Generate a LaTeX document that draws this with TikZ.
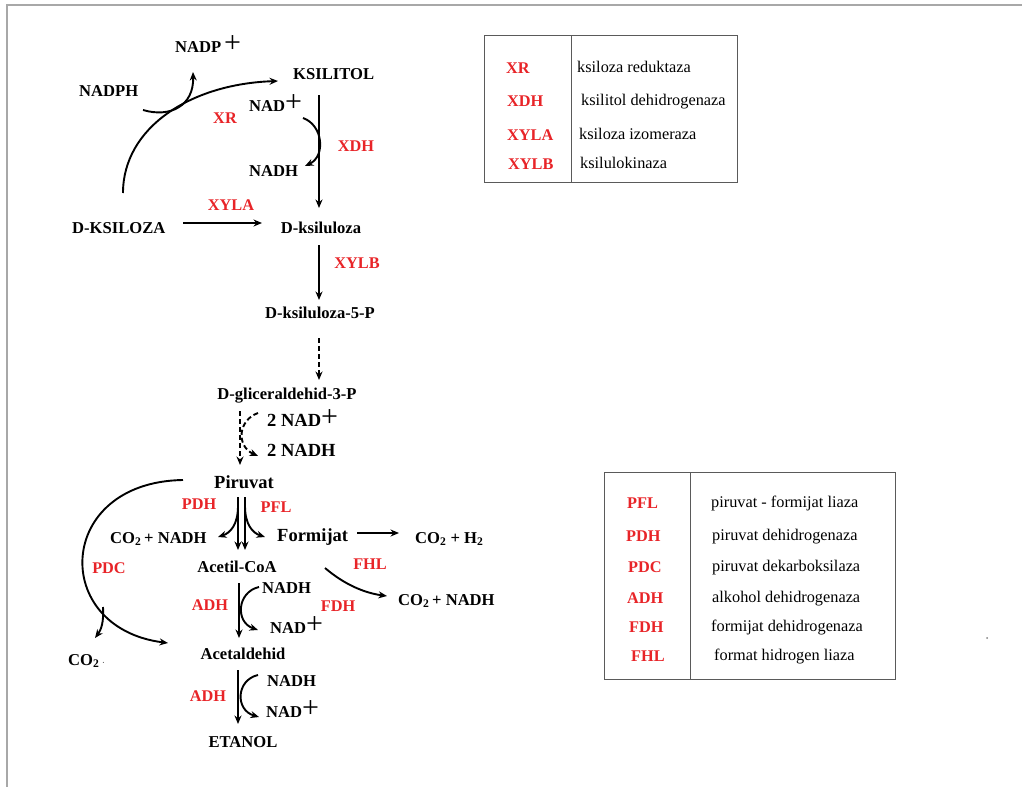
\documentclass[tikz,border=0pt]{standalone}
\usepackage{fontspec}
\setmainfont{Liberation Serif}
\usetikzlibrary{arrows.meta}
\definecolor{enzred}{RGB}{232,36,40}
\definecolor{framegray}{RGB}{168,168,168}
\definecolor{tabline}{RGB}{90,90,90}
\newcommand{\bigplus}{\raisebox{-0.5pt}{\mdseries\fontsize{30}{30}\selectfont +}}
\tikzset{
  lbl/.style={font=\fontsize{16.6}{18}\selectfont\bfseries, inner sep=0pt, anchor=base},
  lblw/.style={lbl, anchor=base west},
  big/.style={font=\fontsize{18.5}{20}\selectfont\bfseries},
  enz/.style={font=\fontsize{16.3}{18}\selectfont\bfseries, text=enzred, inner sep=0pt, anchor=base},
  enzw/.style={enz, anchor=base west},
  tx/.style={font=\fontsize{16.3}{18}\selectfont, inner sep=0pt, anchor=base west},
  arr/.style={line width=1.9pt, -{Stealth[length=8.5pt,width=7pt]}},
  darr/.style={arr, dash pattern=on 5pt off 3pt},
  tab/.style={draw=tabline, line width=0.9pt},
}
\begin{document}
\begin{tikzpicture}[x=1pt,y=-1pt]
\useasboundingbox (0,0) rectangle (1022,787);
% frame
\draw[framegray, line width=2pt] (6.5,5) -- (1022,5);
\draw[framegray, line width=2pt] (7,4) -- (7,787);

% metabolites
\node[lblw] (nadp) at (175,52) {NADP\,\bigplus};
\node[lblw] (nadph) at (79,96) {NADPH};
\node[lblw] (ksilitol) at (293,79) {KSILITOL};
\node[lblw] (nad1) at (249,111) {NAD\bigplus};
\node[lblw] (nadh1) at (249,176) {NADH};
\node[lblw] (dksiloza) at (72,233) {D-KSILOZA};
\node[lbl] (dksiluloza) at (321,233) {D-ksiluloza};
\node[lbl] (dk5p) at (320,318) {D-ksiluloza-5-P};
\node[lbl] (dg3p) at (287,399) {D-gliceraldehid-3-P};
\node[lblw, big] (nad2) at (267,426) {2 NAD\bigplus};
\node[lblw, big] (nadh2) at (267,456) {2 NADH};
\node[lbl, big] (piruvat) at (244,488) {Piruvat};
\node[lblw] (co2nadh1) at (110,543) {CO\textsubscript{2}\,+ NADH};
\node[lblw, big] (formijat) at (277,541) {Formijat};
\node[lblw] (co2h2) at (415,543) {CO\textsubscript{2} + H\textsubscript{2}};
\node[lbl] (acetilcoa) at (237,572) {Acetil-CoA};
\node[lblw] (nadh3) at (262,593) {NADH};
\node[lblw] (co2nadh2) at (398,605) {CO\textsubscript{2}\,+ NADH};
\node[lblw] (nad3) at (270,633) {NAD\bigplus};
\node[lblw] (co2) at (68,665) {CO\textsubscript{2}\,{\mdseries\fontsize{8}{8}\selectfont\textperiodcentered}};
\node[lbl] (acetaldehid) at (243,659) {Acetaldehid};
\node[lblw] (nadh4) at (267,686) {NADH};
\node[lblw] (nad4) at (266,717) {NAD\bigplus};
\node[lbl] (etanol) at (243,747) {ETANOL};

% enzymes
\node[enz] (exr) at (225,123) {XR};
\node[enz] (exdh) at (356,151) {XDH};
\node[enz] (exyla) at (231,210) {XYLA};
\node[enz] (exylb) at (357,268) {XYLB};
\node[enz] (epdh) at (199,509) {PDH};
\node[enz] (epfl) at (276,512) {PFL};
\node[enz] (epdc) at (109,573) {PDC};
\node[enz] (efhl) at (370,569) {FHL};
\node[enz] (eadh1) at (210,610) {ADH};
\node[enz] (efdh) at (338,611) {FDH};
\node[enz] (eadh2) at (208,701) {ADH};

% coordinates for connector ends
\coordinate (xrS) at (123,193);
\coordinate (xrE) at (278,81);
\coordinate (nadphS) at (143,110);
\coordinate (nadpE) at (193,72);
\coordinate (xdhS) at (319,95);
\coordinate (xdhE) at (319,208);
\coordinate (xdcS) at (303,118);
\coordinate (xdcE) at (305,166);
\coordinate (xylaS) at (183,223);
\coordinate (xylaE) at (262,223);
\coordinate (xylbS) at (319,245);
\coordinate (xylbE) at (319,300);
\coordinate (d1S) at (319,338);
\coordinate (d1E) at (319,380);
\coordinate (d2S) at (240,411);
\coordinate (d2E) at (240,465);
\coordinate (d2cS) at (258,413);
\coordinate (d2cE) at (258,456);
\coordinate (p1S) at (238,497);
\coordinate (p1E) at (238,550);
\coordinate (p2S) at (245,497);
\coordinate (p2E) at (245,550);
\coordinate (pdhS) at (238,506);
\coordinate (pdhE) at (218,537);
\coordinate (pflS) at (245,506);
\coordinate (pflE) at (265,537);
\coordinate (pdcS) at (183,480);
\coordinate (pdcE) at (168,643);
\coordinate (co2S) at (103,607);
\coordinate (co2E) at (95,638);
\coordinate (fS) at (357,533);
\coordinate (fE) at (399,533);
\coordinate (fhlS) at (325,568);
\coordinate (fhlE) at (387,596);
\coordinate (a1S) at (239,583);
\coordinate (a1E) at (239,638);
\coordinate (a1cS) at (259,587);
\coordinate (a1cE) at (258,630);
\coordinate (a2S) at (238,670);
\coordinate (a2E) at (238,724);
\coordinate (a2cS) at (258,675);
\coordinate (a2cE) at (259,717);

% connectors
\draw[arr] (xrS) .. controls (123,128) and (190,84) .. (xrE);
\draw[arr] (nadphS) .. controls (170,118) and (194,106) .. (nadpE);
\draw[arr] (xdhS) -- (xdhE);
\draw[arr] (xdcS) .. controls (323,125) and (326,156) .. (xdcE);
\draw[arr] (xylaS) -- (xylaE);
\draw[arr] (xylbS) -- (xylbE);
\draw[darr] (d1S) -- (d1E);
\draw[darr] (d2S) -- (d2E);
\draw[darr] (d2cS) .. controls (238,420) and (236,446) .. (d2cE);
\draw[arr] (p1S) -- (p1E);
\draw[arr] (p2S) -- (p2E);
\draw[arr] (pdhS) .. controls (238,525) and (230,533) .. (pdhE);
\draw[arr] (pflS) .. controls (245,525) and (253,533) .. (pflE);
\draw[arr] (pdcS) .. controls (55,482) and (50,628) .. (pdcE);
\draw[arr] (co2S) .. controls (104,622) and (101,630) .. (co2E);
\draw[arr] (fS) -- (fE);
\draw[arr] (fhlS) .. controls (345,585) and (365,593) .. (fhlE);
\draw[arr] (a1S) -- (a1E);
\draw[arr] (a1cS) .. controls (237,592) and (235,622) .. (a1cE);
\draw[arr] (a2S) -- (a2E);
\draw[arr] (a2cS) .. controls (236,680) and (235,710) .. (a2cE);

% table 1
\draw[tab] (484,35) rectangle (737,182);
\draw[tab] (571,35) -- (571,182);
\node[enzw] (t1a) at (506,73) {XR};
\node[enzw] (t1b) at (507,106) {XDH};
\node[enzw] (t1c) at (507,140) {XYLA};
\node[enzw] (t1d) at (508,169) {XYLB};
\node[tx] (t1e) at (577,72) {ksiloza reduktaza};
\node[tx] (t1f) at (581,105) {ksilitol dehidrogenaza};
\node[tx] (t1g) at (579,139) {ksiloza izomeraza};
\node[tx] (t1h) at (580,168) {ksilulokinaza};

% table 2
\draw[tab] (604,472) rectangle (895,679);
\draw[tab] (690,472) -- (690,679);
\node[enzw] (t2a) at (627,508) {PFL};
\node[enzw] (t2b) at (626,541) {PDH};
\node[enzw] (t2c) at (628,572) {PDC};
\node[enzw] (t2d) at (627,603) {ADH};
\node[enzw] (t2e) at (629,632) {FDH};
\node[enzw] (t2f) at (631,661) {FHL};
\node[tx] (t2g) at (711,507) {piruvat - formijat liaza};
\node[tx] (t2h) at (712,540) {piruvat dehidrogenaza};
\node[tx] (t2i) at (712,571) {piruvat dekarboksilaza};
\node[tx] (t2j) at (712,602) {alkohol dehidrogenaza};
\node[tx] (t2k) at (711,631) {formijat dehidrogenaza};
\node[tx] (t2l) at (714,660) {format hidrogen liaza};

% stray dot
\fill[gray] (987,638) circle (1pt);
\end{tikzpicture}
\end{document}
